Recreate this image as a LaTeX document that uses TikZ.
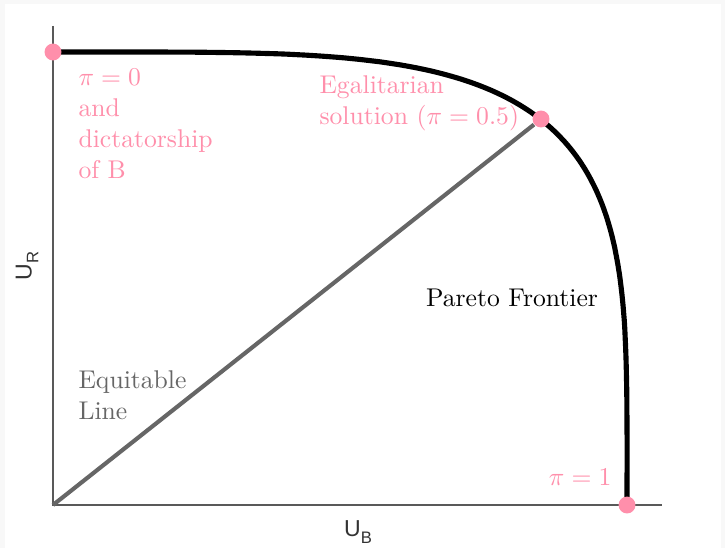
\documentclass[tikz,border=0pt]{standalone}
\usepackage{fontspec}
\newfontfamily\axisfont{Liberation Sans}
\usetikzlibrary{positioning}
\definecolor{pinkdot}{RGB}{255,143,171}
\definecolor{lightbg}{RGB}{248,248,248}
\newcommand{\axsub}[1]{\raisebox{-0.55ex}{\fontsize{6.5}{7}\selectfont #1}}

\begin{document}
\begin{tikzpicture}[
  x=0.39pt, y=-0.39pt,
  dot/.style={circle, fill=pinkdot, inner sep=0pt, minimum size=6.6pt},
  pinklbl/.style={text=pinkdot, align=left, anchor=north west, inner sep=0pt, font=\fontsize{10}{12.2}\selectfont},
  axislbl/.style={text=black!80, font=\axisfont\fontsize{9}{10}\selectfont, inner sep=0pt},
  axisline/.style={draw=black!65, line width=0.5pt}
]

% canvas
\fill[lightbg] (0,0) rectangle (725,548);
\fill[white] (5,4) rectangle (721,548);

% axes
\coordinate (origin) at (53,505);
\coordinate (ytop) at (53,26);
\coordinate (xend) at (662,505);
\draw[axisline] (ytop) -- (origin) -- (xend);
\node[axislbl, rotate=90] (ur) at (27,266) {U\axsub{R}};
\node[axislbl] (ub) at (358,532) {U\axsub{B}};

% frontier
\draw[line width=2pt, line join=round] plot[domain=0:90, samples=120, smooth]
  ({53+574*pow(abs(cos(\x))+0.00001,0.468)}, {505-453*pow(abs(sin(\x))+0.00001,0.468)});

% equitable line
\node[dot] (egal) at (541,119) {};
\draw[black!60, line width=1.6pt] (origin) -- (egal);
\node[dot] (dict) at (53,52) {};
\node[dot] (pione) at (627,505) {};

% labels
\node[pinklbl] (dictlbl) at (78,68) {$\pi=0$\\and\\dictatorship\\of B};
\node[pinklbl] (egallbl) at (319,75) {Egalitarian\\solution ($\pi=0.5$)};
\node[pinklbl, anchor=east] (pionelbl) at (612,477) {$\pi=1$};
\node[inner sep=0pt] (pareto) at (512,298) {Pareto Frontier};
\node[text=black!60, align=left, anchor=north west, inner sep=0pt, font=\fontsize{10}{12.2}\selectfont] (equit) at (78,370) {Equitable\\Line};

\end{tikzpicture}
\end{document}
